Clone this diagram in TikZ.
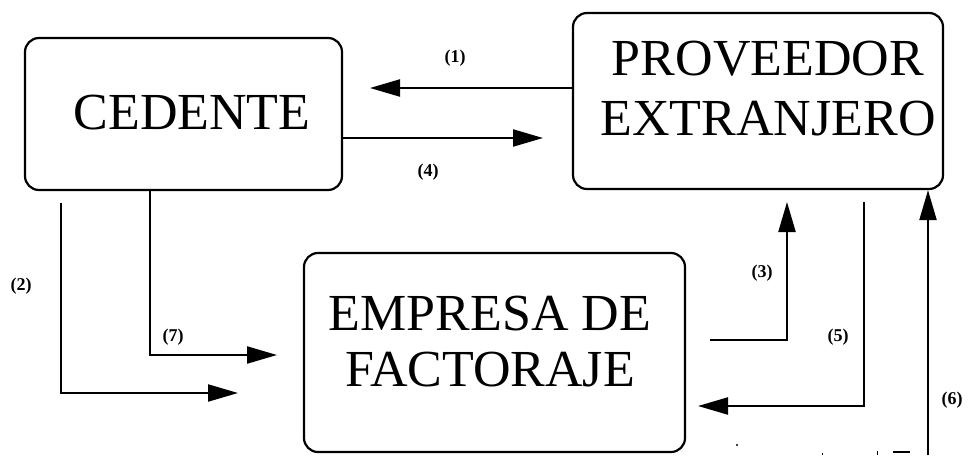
\documentclass[tikz,border=0pt]{standalone}
\usepackage{fontspec}
\setmainfont{Liberation Serif}
\usetikzlibrary{arrows.meta}
\begin{document}
\begin{tikzpicture}[x=1pt,y=-1pt,
  box/.style={draw, line width=2.2pt, rounded corners=14pt, inner sep=0pt},
  title/.style={font=\fontsize{52}{58}\selectfont, anchor=base, inner sep=0pt},
  tag/.style={font=\bfseries\fontsize{18}{20}\selectfont, inner sep=0pt},
  flow/.style={line width=2.2pt, -{Triangle[length=30pt,width=17pt]}},
]
\useasboundingbox (0,0) rectangle (968,455);

% the three parties
\node[box, minimum width=317pt, minimum height=152pt] (ced) at (183.5,114) {};
\node[box, minimum width=370pt, minimum height=176pt] (prov) at (758,101) {};
\node[box, minimum width=381pt, minimum height=199pt] (emp) at (494.5,352.5) {};

\node[title] (cedt) at (192,129) {CEDENTE};
\node[title] (provt1) at (768,75) {PROVEEDOR};
\node[title] (provt2) at (768,135) {EXTRANJERO};
\node[title] (empt1) at (490,330) {EMPRESA DE};
\node[title] (empt2) at (490,386) {FACTORAJE};

% free ends of the flows
\coordinate (t1) at (370,88);
\coordinate (t4) at (543,138);
\coordinate (s2) at (61,203);
\coordinate (t2) at (238,393);
\coordinate (k7) at (150,355);
\coordinate (t7) at (277,355);
\coordinate (s3) at (710,340);
\coordinate (t3) at (787,202);
\coordinate (s5) at (864,202);
\coordinate (t5) at (698,406);
\coordinate (s6) at (928,455);

% flows
\draw[flow] (prov.west |- t1) -- (t1);
\draw[flow] (ced.east |- t4) -- (t4);
\draw[flow] (s2) |- (t2);
\draw[flow] (ced.south -| k7) |- (t7);
\draw[flow] (s3) -| (t3);
\draw[flow] (s5) |- (t5);
\draw[flow] (s6) -- (s6 |- prov.south);

% step numbers
\node[tag] (n1) at (455,58) {(1)};
\node[tag] (n4) at (428,172) {(4)};
\node[tag] (n2) at (21,286) {(2)};
\node[tag] (n7) at (173,337) {(7)};
\node[tag] (n3) at (762,273) {(3)};
\node[tag] (n5) at (838,337) {(5)};
\node[tag] (n6) at (952,400) {(6)};

% small specks along the lower edge
\fill (737,445) circle (1.1pt);
\draw[line width=1.3pt] (893,452) -- (910,452);
\draw[line width=1pt] (822,453) -- (822,455);
\draw[line width=1pt] (877,451) -- (877,455);
\end{tikzpicture}
\end{document}
